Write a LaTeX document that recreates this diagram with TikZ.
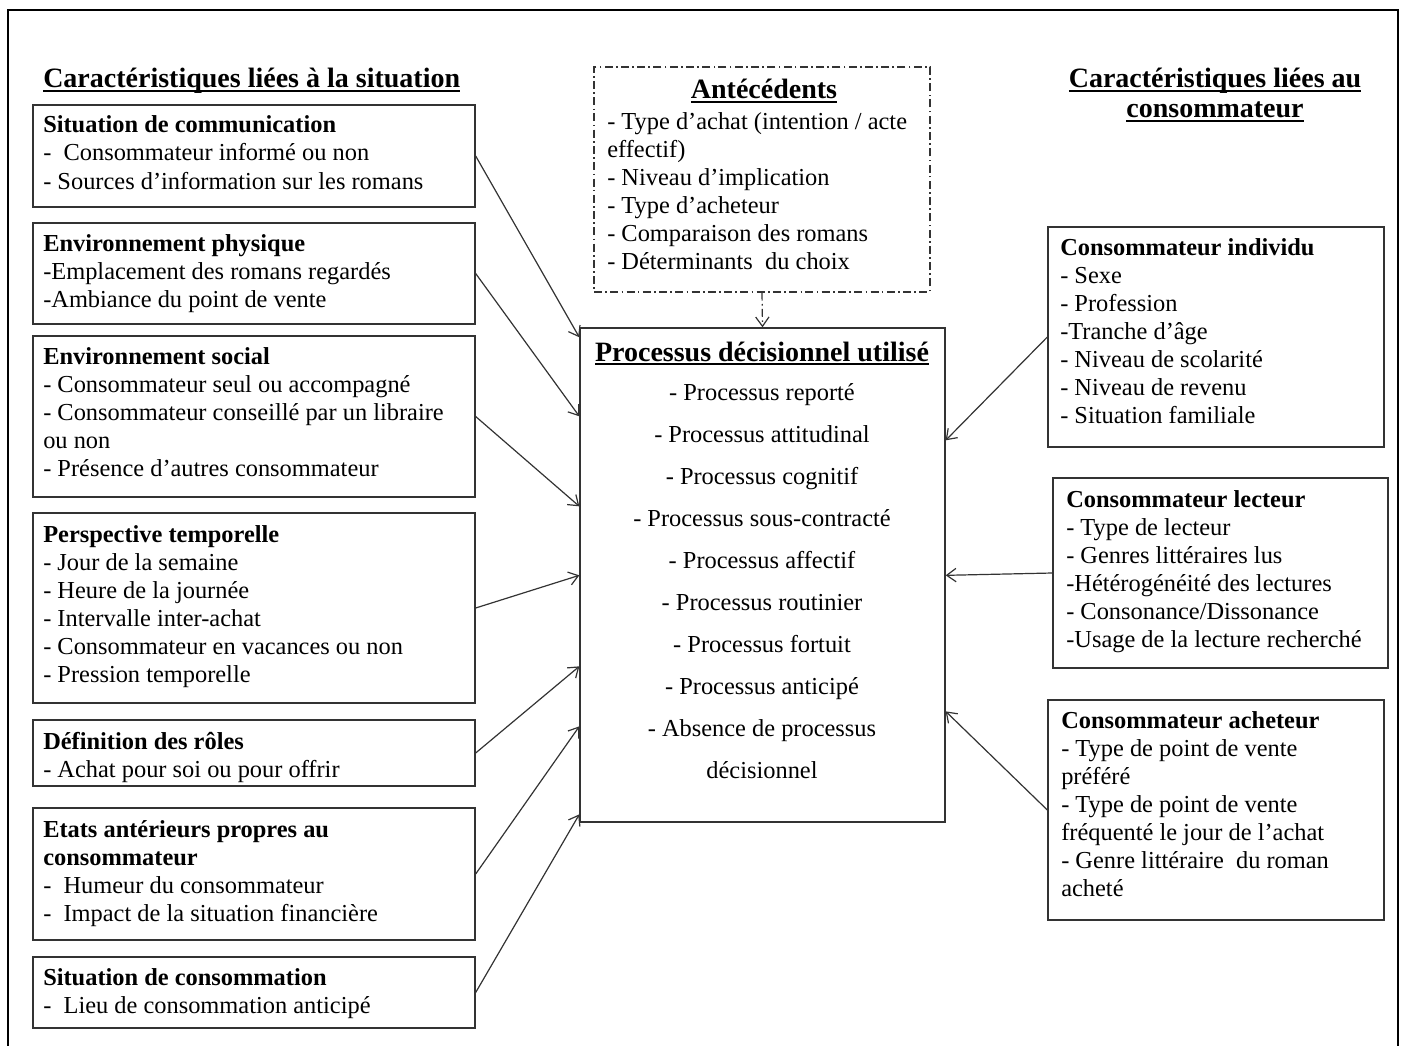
\documentclass[tikz,border=0pt]{standalone}
\usepackage{fontspec}
\setmainfont{Liberation Serif}
\usetikzlibrary{arrows.meta,fit,calc}
\newcommand\bodyfont{\fontsize{18.3}{21}\selectfont}
\newcommand\headfont{\fontsize{21}{22.5}\selectfont\bfseries}
\newcommand\ulx[1]{\setbox0\hbox{#1}\rlap{\rule[-3pt]{\wd0}{1.4pt}}\box0}
\begin{document}
\begin{tikzpicture}[x=0.75pt,y=-0.75pt,
  sbox/.style={draw=black!80, line width=1pt, inner sep=0pt},
  abox/.style={draw=black!80, line width=1pt, inner sep=0pt, dash pattern=on 6pt off 2.5pt on 1.2pt off 2.5pt},
  txt/.style={inner sep=0pt, align=left, font=\bodyfont, anchor=base west},
  ttl/.style={inner sep=0pt, align=center, font=\headfont, anchor=base},
  arr/.style={draw=black!80, line width=0.9pt, -{Straight Barb[length=7pt,width=10pt]}},
  darr/.style={arr, dash pattern=on 6pt off 2.5pt on 1.2pt off 2.5pt}]
\useasboundingbox (0,0) rectangle (1405,1045);
\clip (0,0) rectangle (1405,1045);
\draw[line width=2pt] (8,10) rectangle (1398,1090);

% titles (multi-line nodes: base = last line's baseline)
\node[ttl, anchor=base west] (tl) at (43,88) {\ulx{Caractéristiques liées à la situation}};
\node[ttl] (tr) at (1215,118) {\ulx{Caractéristiques liées au}\\\ulx{consommateur}};

% left boxes
\node[sbox, fit={(33,105) (475,207)}] (l1) {};
\node[sbox, fit={(33,223) (475,324)}] (l2) {};
\node[sbox, fit={(33,336) (475,497)}] (l3) {};
\node[sbox, fit={(33,513) (475,703)}] (l4) {};
\node[sbox, fit={(33,720) (475,786)}] (l5) {};
\node[sbox, fit={(33,808) (475,940)}] (l6) {};
\node[sbox, fit={(33,957) (475,1028)}] (l7) {};

\node[txt] (l1t) at (43,189) {\textbf{Situation de communication}\\-\ \ Consommateur informé ou non\\- Sources d’information sur les romans};
\node[txt] (l2t) at (43,307) {\textbf{Environnement physique}\\-Emplacement des romans regardés\\-Ambiance du point de vente};
\node[txt] (l3t) at (43,476) {\textbf{Environnement social}\\- Consommateur seul ou accompagné\\- Consommateur conseillé par un libraire\\ou non\\- Présence d’autres consommateur};
\node[txt] (l4t) at (43,682) {\textbf{Perspective temporelle}\\- Jour de la semaine\\- Heure de la journée\\- Intervalle inter-achat\\- Consommateur en vacances ou non\\- Pression temporelle};
\node[txt] (l5t) at (43,777) {\textbf{Définition des rôles}\\- Achat pour soi ou pour offrir};
\node[txt] (l6t) at (43,921) {\textbf{Etats antérieurs propres au}\\\textbf{consommateur}\\-\ \ Humeur du consommateur\\-\ \ Impact de la situation financière};
\node[txt] (l7t) at (43,1013) {\textbf{Situation de consommation}\\-\ \ Lieu de consommation anticipé};

% antecedents
\node[abox, fit={(594,67) (930,292)}] (ant) {};
\node[ttl] (antt) at (764,99) {\ulx{Antécédents}};
\node[txt] (antl) at (607,269) {- Type d’achat (intention / acte\\effectif)\\- Niveau d’implication\\- Type d’acheteur\\- Comparaison des romans\\- Déterminants\ \ du choix};

% central box
\node[sbox, fit={(580,328) (945,822)}] (pd) {};
\node[ttl] (pdt) at (762,361) {\ulx{Processus décisionnel utilisé}};
\node[inner sep=0pt, align=center, font=\fontsize{18.3}{31.5}\selectfont, anchor=base] (pdl) at (762,778)
 {- Processus reporté\\- Processus attitudinal\\- Processus cognitif\\- Processus sous-contracté\\- Processus affectif\\- Processus routinier\\- Processus fortuit\\- Processus anticipé\\- Absence de processus\\décisionnel};

% right boxes
\node[sbox, fit={(1048,227) (1384,447)}] (r1) {};
\node[sbox, fit={(1053,478) (1388,668)}] (r2) {};
\node[sbox, fit={(1048,700) (1384,920)}] (r3) {};
\node[txt] (r1t) at (1060,423) {\textbf{Consommateur individu}\\- Sexe\\- Profession\\-Tranche d’âge\\- Niveau de scolarité\\- Niveau de revenu\\- Situation familiale};
\node[txt] (r2t) at (1066,647) {\textbf{Consommateur lecteur}\\- Type de lecteur\\- Genres littéraires lus\\-Hétérogénéité des lectures\\- Consonance/Dissonance\\-Usage de la lecture recherché};
\node[txt] (r3t) at (1061,896) {\textbf{Consommateur acheteur}\\- Type de point de vente\\préféré\\- Type de point de vente\\fréquenté le jour de l’achat\\- Genre littéraire\ \ du roman\\acheté};

% connectors
\draw[darr] (ant.south) -- (pd.north);
\draw[arr] (l1.east) -- ($(pd.north west)+(0,10)$);
\draw[arr] (l2.east) -- ($(pd.north west)+(0,89)$);
\draw[arr] (l3.east) -- ($(pd.north west)+(0,179)$);
\draw[arr] (l4.east) -- ($(pd.north west)+(0,248)$);
\draw[arr] (l5.east) -- ($(pd.north west)+(0,339)$);
\draw[arr] (l6.east) -- ($(pd.north west)+(0,399)$);
\draw[arr] (l7.east) -- ($(pd.north west)+(0,487)$);
\draw[arr] (r1.west) -- ($(pd.north east)+(0,113)$);
\draw[arr] (r2.west) -- ($(pd.north east)+(0,248)$);
\draw[arr] (r3.west) -- ($(pd.north east)+(0,384)$);
\end{tikzpicture}
\end{document}
